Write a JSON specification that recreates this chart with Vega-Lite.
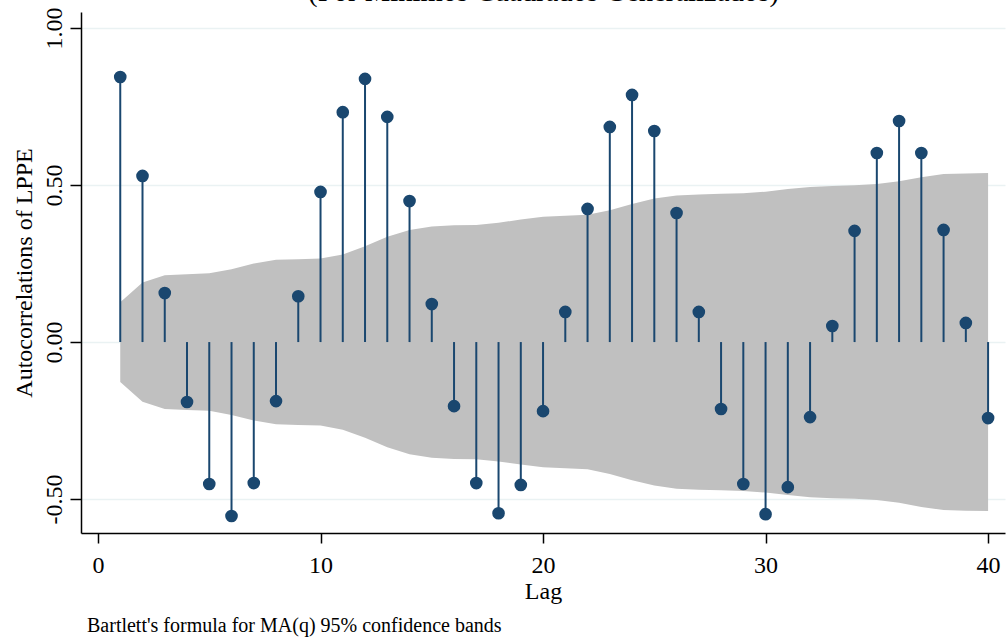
{
  "$schema": "https://vega.github.io/schema/vega-lite/v6.json",
  "width": 924,
  "height": 521,
  "autosize": {"type": "none"},
  "padding": {"left": 81, "top": 12, "right": 3, "bottom": 111},
  "background": "white",
  "config": {
    "font": "Liberation Serif",
    "view": {"stroke": null},
    "axis": {
      "labelFont": "Liberation Serif",
      "titleFont": "Liberation Serif",
      "labelColor": "black",
      "titleColor": "black",
      "titleFontWeight": "normal",
      "domainColor": "black",
      "tickColor": "black"
    }
  },
  "title": {
    "text": "Bartlett's formula for MA(q) 95% confidence bands",
    "orient": "bottom",
    "anchor": "start",
    "frame": "group",
    "dx": 6,
    "offset": 13,
    "font": "Liberation Serif",
    "fontSize": 20,
    "fontWeight": "normal",
    "color": "black"
  },
  "data": {
    "values": [
      {"lag": 1, "ac": 0.844, "hi": 0.127, "lo": -0.127},
      {"lag": 2, "ac": 0.529, "hi": 0.19, "lo": -0.19},
      {"lag": 3, "ac": 0.156, "hi": 0.213, "lo": -0.213},
      {"lag": 4, "ac": -0.191, "hi": 0.216, "lo": -0.216},
      {"lag": 5, "ac": -0.452, "hi": 0.219, "lo": -0.219},
      {"lag": 6, "ac": -0.554, "hi": 0.232, "lo": -0.232},
      {"lag": 7, "ac": -0.449, "hi": 0.25, "lo": -0.25},
      {"lag": 8, "ac": -0.188, "hi": 0.262, "lo": -0.262},
      {"lag": 9, "ac": 0.146, "hi": 0.264, "lo": -0.264},
      {"lag": 10, "ac": 0.478, "hi": 0.266, "lo": -0.266},
      {"lag": 11, "ac": 0.732, "hi": 0.279, "lo": -0.279},
      {"lag": 12, "ac": 0.838, "hi": 0.305, "lo": -0.305},
      {"lag": 13, "ac": 0.717, "hi": 0.335, "lo": -0.335},
      {"lag": 14, "ac": 0.449, "hi": 0.357, "lo": -0.357},
      {"lag": 15, "ac": 0.121, "hi": 0.368, "lo": -0.368},
      {"lag": 16, "ac": -0.204, "hi": 0.372, "lo": -0.372},
      {"lag": 17, "ac": -0.449, "hi": 0.373, "lo": -0.373},
      {"lag": 18, "ac": -0.545, "hi": 0.38, "lo": -0.38},
      {"lag": 19, "ac": -0.455, "hi": 0.39, "lo": -0.39},
      {"lag": 20, "ac": -0.22, "hi": 0.399, "lo": -0.399},
      {"lag": 21, "ac": 0.096, "hi": 0.402, "lo": -0.402},
      {"lag": 22, "ac": 0.424, "hi": 0.405, "lo": -0.405},
      {"lag": 23, "ac": 0.685, "hi": 0.42, "lo": -0.42},
      {"lag": 24, "ac": 0.787, "hi": 0.44, "lo": -0.44},
      {"lag": 25, "ac": 0.672, "hi": 0.457, "lo": -0.457},
      {"lag": 26, "ac": 0.411, "hi": 0.467, "lo": -0.467},
      {"lag": 27, "ac": 0.096, "hi": 0.47, "lo": -0.47},
      {"lag": 28, "ac": -0.213, "hi": 0.472, "lo": -0.472},
      {"lag": 29, "ac": -0.452, "hi": 0.474, "lo": -0.474},
      {"lag": 30, "ac": -0.548, "hi": 0.479, "lo": -0.479},
      {"lag": 31, "ac": -0.462, "hi": 0.487, "lo": -0.487},
      {"lag": 32, "ac": -0.239, "hi": 0.494, "lo": -0.494},
      {"lag": 33, "ac": 0.051, "hi": 0.497, "lo": -0.497},
      {"lag": 34, "ac": 0.354, "hi": 0.499, "lo": -0.499},
      {"lag": 35, "ac": 0.602, "hi": 0.503, "lo": -0.503},
      {"lag": 36, "ac": 0.704, "hi": 0.512, "lo": -0.512},
      {"lag": 37, "ac": 0.602, "hi": 0.525, "lo": -0.525},
      {"lag": 38, "ac": 0.357, "hi": 0.535, "lo": -0.535},
      {"lag": 39, "ac": 0.061, "hi": 0.537, "lo": -0.537},
      {"lag": 40, "ac": -0.242, "hi": 0.538, "lo": -0.538}
    ]
  },
  "resolve": {"axis": {"x": "independent"}},
  "layer": [
    {
      "mark": {"type": "area", "color": "#c0c0c0", "opacity": 1},
      "encoding": {
        "x": {
          "field": "lag",
          "type": "quantitative",
          "scale": {"domain": [-0.764, 40.76], "nice": false, "zero": false},
          "axis": {
            "title": "Lag",
            "values": [0, 10, 20, 30, 40],
            "grid": false,
            "domainWidth": 1.5,
            "tickSize": 10,
            "tickWidth": 1.5,
            "labelFontSize": 24,
            "labelPadding": 10,
            "labelFlush": false,
            "titleFontSize": 24,
            "titlePadding": 2
          }
        },
        "y": {
          "field": "lo",
          "type": "quantitative",
          "scale": {"domain": [-0.608, 1.051], "nice": false, "zero": false},
          "axis": {
            "title": "Autocorrelations of LPPE",
            "values": [-0.5, 0, 0.5, 1],
            "labelExpr": "(datum.value < 0 ? '-' : '') + format(abs(datum.value), '.2f')",
            "grid": true,
            "gridColor": "#eaf2f3",
            "gridWidth": 1.5,
            "domainWidth": 1.5,
            "tickSize": 11,
            "tickWidth": 1.5,
            "labelFontSize": 24,
            "labelAngle": -90,
            "labelAlign": "center",
            "labelBaseline": "bottom",
            "labelPadding": 4,
            "labelFlush": false,
            "titleFontSize": 24,
            "titlePadding": 6
          }
        },
        "y2": {"field": "hi"}
      }
    },
    {
      "mark": {"type": "rule", "color": "#1a476f", "strokeWidth": 2},
      "encoding": {
        "x": {
          "field": "lag",
          "type": "quantitative",
          "axis": {
            "orient": "top",
            "title": "(Por Mínimos Cuadrados Generalizados)",
            "labels": false,
            "ticks": false,
            "domain": false,
            "grid": false,
            "titleFontSize": 28.7,
            "titleBaseline": "alphabetic",
            "titlePadding": 12
          }
        },
        "y": {
          "field": "ac",
          "type": "quantitative",
          "axis": {
            "title": "Autocorrelations of LPPE",
            "values": [-0.5, 0, 0.5, 1],
            "labelExpr": "(datum.value < 0 ? '-' : '') + format(abs(datum.value), '.2f')",
            "grid": true,
            "gridColor": "#eaf2f3",
            "gridWidth": 1.5,
            "domainWidth": 1.5,
            "tickSize": 11,
            "tickWidth": 1.5,
            "labelFontSize": 24,
            "labelAngle": -90,
            "labelAlign": "center",
            "labelBaseline": "bottom",
            "labelPadding": 4,
            "labelFlush": false,
            "titleFontSize": 24,
            "titlePadding": 6
          }
        },
        "y2": {"datum": 0}
      }
    },
    {
      "mark": {"type": "circle", "color": "#1a476f", "opacity": 1, "size": 160},
      "encoding": {
        "x": {"field": "lag", "type": "quantitative", "axis": null},
        "y": {
          "field": "ac",
          "type": "quantitative",
          "axis": {
            "title": "Autocorrelations of LPPE",
            "values": [-0.5, 0, 0.5, 1],
            "labelExpr": "(datum.value < 0 ? '-' : '') + format(abs(datum.value), '.2f')",
            "grid": true,
            "gridColor": "#eaf2f3",
            "gridWidth": 1.5,
            "domainWidth": 1.5,
            "tickSize": 11,
            "tickWidth": 1.5,
            "labelFontSize": 24,
            "labelAngle": -90,
            "labelAlign": "center",
            "labelBaseline": "bottom",
            "labelPadding": 4,
            "labelFlush": false,
            "titleFontSize": 24,
            "titlePadding": 6
          }
        }
      }
    }
  ]
}
